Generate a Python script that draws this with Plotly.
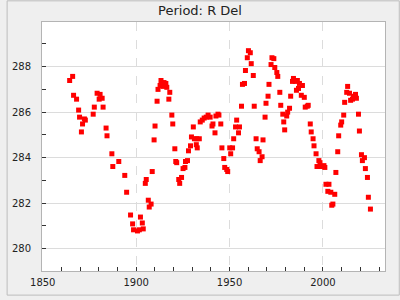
import plotly.graph_objects as go

title_text = "Period: R Del"

years = [
    1864.4, 1866.0, 1866.5, 1868.1, 1869.2, 1869.7, 1871.3, 1870.7, 1872.3, 1872.8,
    1877.0, 1877.6, 1879.1, 1880.7, 1880.2, 1881.8, 1882.3, 1883.9, 1884.4, 1887.0,
    1887.5, 1890.7, 1893.9, 1894.9, 1897.0, 1898.1, 1898.6, 1900.7, 1901.7, 1902.3,
    1903.3, 1903.8, 1904.9, 1905.4, 1906.5, 1907.0, 1908.0, 1908.6, 1909.6, 1910.1,
    1911.2, 1911.7, 1912.8, 1913.3, 1913.8, 1914.9, 1914.3, 1915.9, 1916.4, 1918.0,
    1917.5, 1919.1, 1919.6, 1920.7, 1921.2, 1921.7, 1922.8, 1923.3, 1924.3, 1925.1,
    1926.1, 1926.4, 1927.5, 1928.0, 1929.1, 1929.6, 1930.6, 1931.2, 1932.2, 1932.7,
    1932.4, 1933.8, 1934.3, 1935.4, 1936.4, 1937.5, 1938.5, 1939.6, 1940.6, 1941.1,
    1942.2, 1942.7, 1943.8, 1944.3, 1945.3, 1945.9, 1946.9, 1947.4, 1948.5, 1949.0,
    1950.1, 1951.6, 1950.6, 1952.2, 1953.2, 1955.3, 1954.8, 1953.8, 1956.4, 1956.9,
    1958.0, 1958.5, 1959.5, 1960.1, 1961.1, 1961.6, 1962.7, 1963.2, 1964.2, 1964.8,
    1965.8, 1966.4, 1967.4, 1967.9, 1969.0, 1969.5, 1970.6, 1971.1, 1972.2, 1972.7,
    1973.7, 1974.2, 1975.3, 1975.8, 1976.9, 1977.4, 1978.5, 1979.0, 1979.5, 1980.6,
    1981.1, 1982.1, 1982.7, 1983.7, 1984.2, 1985.3, 1986.3, 1985.8, 1986.9, 1987.4,
    1989.0, 1988.4, 1990.0, 1990.5, 1991.6, 1992.1, 1993.2, 1993.7, 1994.7, 1995.2,
    1996.3, 1997.8, 1998.4, 1996.8, 1998.9, 2000.5, 2001.0, 2001.6, 2003.2, 2002.6,
    2004.2, 2006.3, 2004.7, 2005.3, 2006.9, 2007.9, 2008.4, 2009.5, 2010.0, 2011.1,
    2011.6, 2012.7, 2013.2, 2014.2, 2014.8, 2015.8, 2016.3, 2017.4, 2017.9, 2019.0,
    2019.5, 2020.6, 2021.1, 2022.2, 2022.7, 2023.8, 2024.3, 2025.4,
]

periods = [
    287.39, 287.57, 286.74, 286.57, 286.09, 285.78, 285.48, 285.13, 285.70, 285.65,
    285.91, 286.22, 286.83, 286.78, 286.57, 286.61, 286.22, 285.30, 284.96, 284.17,
    283.61, 283.83, 283.22, 282.48, 281.48, 281.09, 280.83, 280.78, 280.83, 281.39,
    281.13, 280.87, 282.87, 283.04, 282.13, 281.83, 281.96, 283.39, 284.78, 285.39,
    286.48, 287.00, 287.17, 287.39, 287.26, 287.30, 287.13, 287.26, 287.09, 286.87,
    286.57, 285.87, 285.48, 284.39, 283.83, 283.78, 283.04, 282.87, 283.13, 283.52,
    283.57, 283.83, 283.87, 284.30, 284.52, 284.91, 285.35, 284.83, 284.57, 284.43,
    284.83, 284.83, 285.57, 285.65, 285.74, 285.78, 285.87, 285.78, 285.39, 285.48,
    285.09, 285.83, 285.91, 285.87, 285.48, 284.43, 283.96, 283.57, 283.48, 283.39,
    284.43, 284.43, 284.17, 284.83, 285.35, 285.35, 285.09, 285.65, 286.26, 287.22,
    287.26, 287.83, 288.39, 288.70, 288.61, 288.13, 287.61, 286.26, 284.83, 284.39,
    284.26, 283.87, 284.04, 284.78, 285.78, 286.39, 286.70, 287.22, 288.09, 288.39,
    288.35, 287.96, 287.74, 287.57, 286.87, 286.30, 285.91, 285.57, 285.22, 285.83,
    286.00, 286.17, 286.70, 287.35, 287.48, 287.35, 287.39, 286.96, 287.04, 287.26,
    287.17, 286.74, 286.65, 286.22, 286.26, 286.30, 285.48, 285.13, 284.83, 284.52,
    284.17, 283.87, 283.78, 283.61, 283.61, 283.65, 283.57, 282.83, 282.83, 282.52,
    282.48, 282.39, 281.91, 281.96, 283.35, 284.26, 284.96, 285.43, 285.57, 285.87,
    286.43, 286.87, 287.13, 286.83, 286.52, 286.57, 286.70, 286.78, 286.61, 285.91,
    285.17, 284.13, 283.87, 284.00, 283.52, 283.13, 282.26, 281.74,
]

x_range = [1849.6, 2033.2]
y_range = [279.02, 289.96]

fig = go.Figure()
fig.add_trace(go.Scatter(
    x=years, y=periods, mode="markers",
    marker=dict(symbol="square", size=5, color="#ff0000", line=dict(width=0)),
    showlegend=False, hoverinfo="skip",
))

axis_common = dict(
    showline=True, mirror=True, linecolor="#b4b4b4", linewidth=1,
    ticks="inside", ticklen=4, tickcolor="#333333", tickwidth=1,
    zeroline=False, gridcolor="#dcdcdc", gridwidth=1,
    tickfont=dict(family="DejaVu Sans", size=10, color="#222222"),
)

fig.update_xaxes(
    range=x_range, tick0=1850, dtick=50, griddash="dash",
    minor=dict(dtick=10, ticks="inside", ticklen=4, tickcolor="#333333", showgrid=False),
    ticklabelstandoff=2,
    **axis_common,
)
fig.update_yaxes(
    range=y_range, tick0=280, dtick=2,
    minor=dict(dtick=1, ticks="inside", ticklen=4, tickcolor="#333333", showgrid=False),
    ticklabelstandoff=8,
    **axis_common,
)

pw, ph = 349.0, 253.0
ml, mt = 36.0, 22.0
fig.add_shape(
    type="rect", xref="paper", yref="paper",
    x0=(0.5 - ml) / pw, x1=(399.5 - ml) / pw,
    y0=(mt + ph - 299.5) / ph, y1=(mt + ph - 0.5) / ph,
    line=dict(color="#bdbdbd", width=1), fillcolor="rgba(0,0,0,0)", layer="below",
)

fig.update_layout(
    width=400, height=300,
    margin=dict(l=36, r=15, t=22, b=25),
    paper_bgcolor="#efefef", plot_bgcolor="#ffffff",
    title=dict(text=title_text, x=0.5, xref="container", xanchor="center",
               y=1 - 10.5 / 300, yref="container", yanchor="middle",
               font=dict(family="DejaVu Sans", size=13, color="#222222")),
    font=dict(family="DejaVu Sans"),
)

fig.write_html("out.html")
